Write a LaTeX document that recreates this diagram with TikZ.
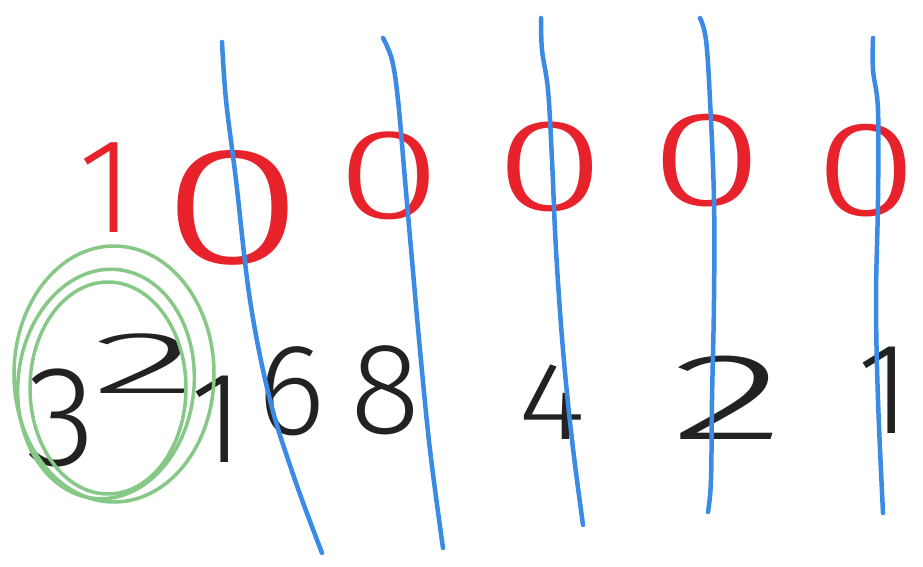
\documentclass[tikz,border=0pt]{standalone}
\usepackage{fontspec}
\newfontfamily\hand{Fira Sans}[UprightFont={* Light}]
\definecolor{penred}{HTML}{E8222A}
\definecolor{penblue}{HTML}{3A8AE6}
\definecolor{pengreen}{HTML}{86C886}
\definecolor{penblack}{HTML}{222222}
\begin{document}
\begin{tikzpicture}[x=1pt,y=-1pt,
  bit/.style={text=penred, font=\hand\fontsize{135}{135}\selectfont, inner sep=0pt},
  weight/.style={text=penblack, font=\hand\fontsize{130}{130}\selectfont, inner sep=0pt},
  divider/.style={draw=penblue, line width=4.5pt, line cap=round, line join=round},
  loopring/.style={draw=pengreen, line width=3.5pt}]
\useasboundingbox[fill=white] (0,0) rectangle (923,567);

% red bits
\node[bit] (b5) at (106,188) {1};
\node[bit, font=\hand\fontsize{155}{155}\selectfont] (b4) at (233,208) {\scalebox{1.7}[1.08]{0}};
\node[bit] (b3) at (389,176) {\scalebox{1.42}[0.95]{0}};
\node[bit] (b2) at (550,167) {\scalebox{1.5}[0.97]{0}};
\node[bit] (b1) at (707,161) {\scalebox{1.55}[1.0]{0}};
\node[bit] (b0) at (866,171) {\scalebox{1.4}[1.0]{0}};

% black weights
\node[weight] (w32) at (112,400) {\scalebox{1.1}{3}\hspace{-4pt}\raisebox{72pt}{\scalebox{1.7}[0.68]{2}}};
\node[weight] (w16) at (258,405) {1\hspace{14pt}\raisebox{28pt}{6}};
\node[weight] (w8) at (385,390) {8};
\node[weight] (w4) at (552,402) {\scalebox{1}[0.85]{4}};
\node[weight] (w2) at (728,398) {\scalebox{1.85}[0.95]{2}};
\node[weight] (w1) at (884,390) {1};

% green rings around 32
\draw[loopring] (114,374) ellipse [x radius=100, y radius=128];
\draw[loopring, rotate around={-6:(106,384)}] (106,384) ellipse [x radius=88, y radius=115];
\draw[loopring] (108,388) ellipse [x radius=78, y radius=106];

% blue dividers
\draw[divider] plot[smooth, tension=0.6] coordinates {(222,42) (226,100) (236,180) (250,300) (270,400) (295,480) (322,553)};
\draw[divider] plot[smooth, tension=0.6] coordinates {(383,38) (392,60) (398,100) (405,180) (412,260) (420,350) (430,450) (443,548)};
\draw[divider] plot[smooth, tension=0.6] coordinates {(541,18) (542,50) (548,90) (552,160) (556,250) (563,350) (572,440) (583,525)};
\draw[divider] plot[smooth, tension=0.6] coordinates {(700,18) (706,40) (710,100) (714,200) (714,300) (712,400) (711,480) (708,512)};
\draw[divider] plot[smooth, tension=0.6] coordinates {(873,38) (873,70) (878,110) (878,200) (876,300) (878,400) (883,513)};
\end{tikzpicture}
\end{document}
